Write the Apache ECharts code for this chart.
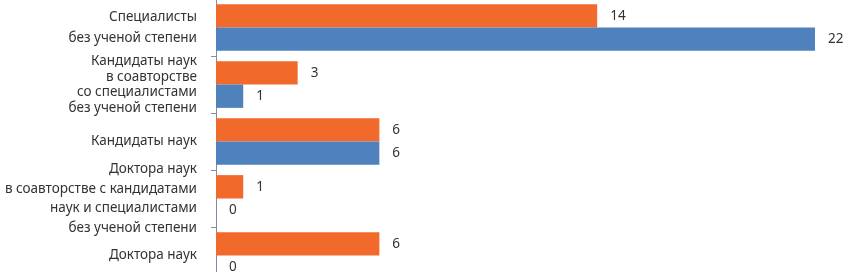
<!DOCTYPE html>
<html><head><meta charset="utf-8">
<script src="https://cdn.jsdelivr.net/npm/echarts@6/dist/echarts.min.js"></script>
<style>html,body{margin:0;padding:0;background:#fff}#c{width:843px;height:272px}</style>
</head><body><div id="c"></div>
<script>
const categories = [
  "Специалисты\nбез ученой степени",
  "Кандидаты наук\nв соавторстве\nсо специалистами\nбез ученой степени",
  "Кандидаты наук",
  "Доктора наук\nв соавторстве с кандидатами\nнаук и специалистами\nбез ученой степени",
  "Доктора наук"
];
const orangeValues = [14, 3, 6, 1, 6];
const blueValues = [22, 1, 6, 0, 0];

const lineHeights = [21, 15.5, 16, 19.5, 16];
const font = "'Noto Sans', sans-serif";
const chart = echarts.init(document.getElementById('c'), null, {renderer: 'canvas'});
chart.setOption({
  animation: false,
  grid: {left: 216, width: 599, top: -1, height: 285, containLabel: false, outerBoundsMode: 'none'},
  xAxis: {type: 'value', min: 0, max: 22, show: false},
  yAxis: {
    type: 'category', inverse: true,
    data: categories.map((c, i) => ({value: c, textStyle: {lineHeight: lineHeights[i]}})),
    axisLine: {show: true, lineStyle: {color: '#858ba0', width: 1}},
    axisTick: {show: true, length: 5, lineStyle: {color: '#858ba0'}},
    axisLabel: {margin: 19, color: '#333333', fontSize: 13.5, fontFamily: font, align: 'right'}
  },
  series: [
    {type: 'bar', data: orangeValues, barGap: '0%', barCategoryGap: '18%',
     itemStyle: {color: '#F26A2B'},
     label: {show: true, position: 'right', distance: 13, color: '#333333', fontSize: 13.5, fontFamily: font}},
    {type: 'bar', data: blueValues, barGap: '0%', barCategoryGap: '18%',
     itemStyle: {color: '#4F81BD'},
     label: {show: true, position: 'right', distance: 13, color: '#333333', fontSize: 13.5, fontFamily: font}}
  ]
});
</script></body></html>
